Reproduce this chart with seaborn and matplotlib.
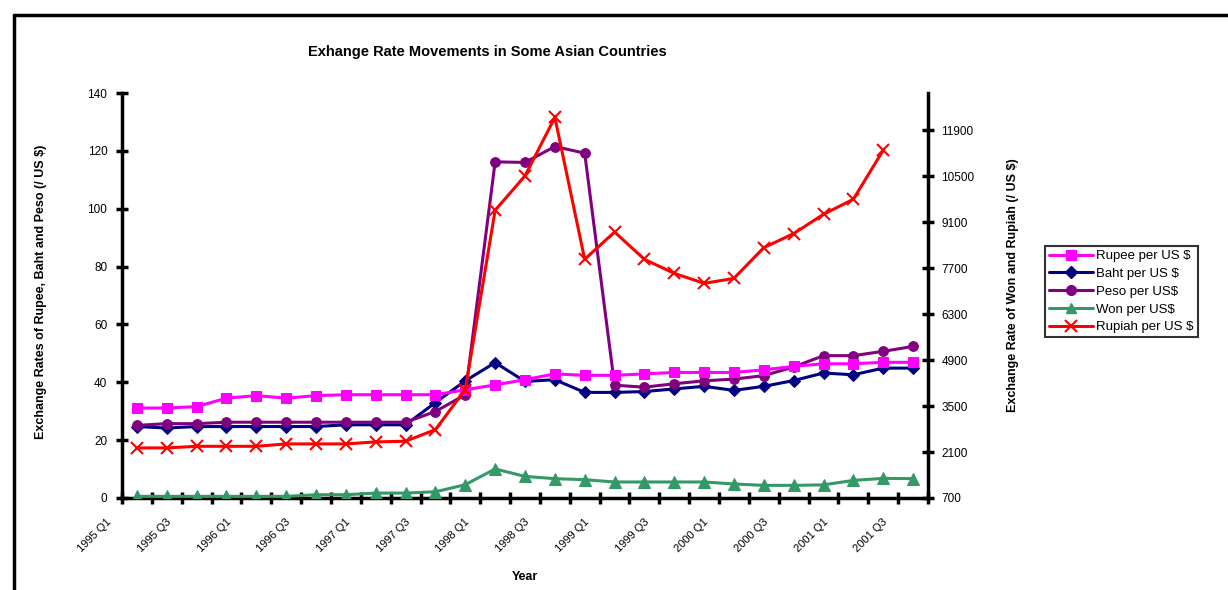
import numpy as np
import pandas as pd
import matplotlib
matplotlib.use("Agg")
import matplotlib.pyplot as plt
from matplotlib.lines import Line2D
from matplotlib.transforms import ScaledTranslation
import seaborn as sns

quarters = [f"{y} Q{q}" for y in range(1995, 2002) for q in range(1, 5)][:27]
tick_labels = quarters[::2]

rupee = [31.1, 31.1, 31.6, 34.5, 35.4, 34.5, 35.4, 35.7, 35.7, 35.7, 35.7, 37.4, 39.1,
         40.9, 42.9, 42.4, 42.4, 42.9, 43.4, 43.4, 43.4, 44.3, 45.5, 46.4, 46.4, 46.9, 46.9]
baht = [24.7, 24.2, 24.7, 24.7, 24.7, 24.7, 24.7, 25.3, 25.3, 25.3, 33.0, 40.5, 46.8,
        40.3, 40.9, 36.5, 36.5, 36.8, 37.7, 38.6, 37.2, 38.6, 40.6, 43.2, 42.6, 44.9, 44.9]
peso = [25.1, 25.7, 25.7, 26.2, 26.2, 26.2, 26.2, 26.2, 26.2, 26.2, 29.9, 35.7, 116.2,
        116.0, 121.5, 119.2, 39.0, 38.3, 39.5, 40.5, 41.1, 42.3, 45.3, 49.2, 49.2, 50.7, 52.4]
won = [750, 750, 750, 750, 750, 750, 800, 800, 850, 850, 890, 1106, 1585,
       1359, 1289, 1258, 1188, 1188, 1188, 1188, 1127, 1085, 1085, 1100, 1237, 1298, 1290]
rupiah = [2226, 2226, 2275, 2275, 2275, 2348, 2348, 2348, 2409, 2430, 2784, 4005, 9467,
          10514, 12296, 7972, 8805, 7972, 7545, 7240, 7392, 8329, 8756, 9345, 9803, 11298, np.nan]

left_ticks = [0, 20, 40, 60, 80, 100, 120, 140]
right_ticks = [700, 2100, 3500, 4900, 6300, 7700, 9100, 10500, 11900]

sns.set_style("white")
plt.rcParams['font.family'] = ['Liberation Sans', 'DejaVu Sans']
plt.rcParams['text.color'] = 'black'
plt.rcParams['axes.labelcolor'] = 'black'
plt.rcParams['xtick.color'] = 'black'
plt.rcParams['ytick.color'] = 'black'

W, H = 1228, 590
fig = plt.figure(figsize=(W / 100, H / 100), dpi=100)
ax = fig.add_axes([122 / W, 92 / H, 806 / W, 405 / H])
ax2 = ax.twinx()

xpos = np.arange(len(quarters))
lw = 2.2

sns.lineplot(x=xpos, y=baht, ax=ax, color='#000080', marker='D', markersize=6.5,
             markeredgecolor='#000080', linewidth=lw, legend=False)
sns.lineplot(x=xpos, y=peso, ax=ax, color='#800080', marker='o', markersize=7,
             markeredgecolor='#800080', linewidth=lw, legend=False)
sns.lineplot(x=xpos, y=rupee, ax=ax, color='#FF00FF', marker='s', markersize=7.5,
             markeredgecolor='#FF00FF', linewidth=lw, legend=False)
sns.lineplot(x=xpos, y=won, ax=ax2, color='#339966', marker='^', markersize=8,
             markeredgecolor='#339966', linewidth=lw, legend=False)
sns.lineplot(x=xpos, y=rupiah, ax=ax2, color='#FF0000', marker='x', markersize=9,
             markeredgecolor='#FF0000', markeredgewidth=1.5, linewidth=lw, legend=False)

for a in (ax, ax2):
    for s in a.spines.values():
        s.set_visible(False)
    a.grid(False)
    a.patch.set_visible(False)
ax.spines['left'].set_visible(True)
ax.spines['bottom'].set_visible(True)
ax2.spines['right'].set_visible(True)
for s in (ax.spines['left'], ax.spines['bottom'], ax2.spines['right']):
    s.set_linewidth(2.5)
    s.set_color('black')

ax.set_yticks(left_ticks)
ax.set_yticklabels([str(v) for v in left_ticks])
ax.tick_params(axis='y', direction='inout', length=9, width=2.5, labelsize=8.5, pad=6, left=True,
               colors='black')
ax2.set_yticks(right_ticks)
ax2.set_yticklabels([str(v) for v in right_ticks])
ax2.tick_params(axis='y', direction='inout', length=9, width=2.5, labelsize=8.5, pad=5, right=True,
                colors='black')

ax.set_xticks(xpos[::2])
ax.set_xticklabels(tick_labels)
ax.set_xticks(np.arange(-0.5, len(quarters), 1.0), minor=True)
ax.tick_params(axis='x', which='major', length=0, labelsize=8, pad=16, colors='black')
ax.tick_params(axis='x', which='minor', direction='inout', length=9, width=2.5, bottom=True,
               colors='black')
shift = ScaledTranslation(-27 / 100, 0, fig.dpi_scale_trans)
for t in ax.get_xticklabels():
    t.set_rotation(45)
    t.set_ha('right')
    t.set_va('center')
    t.set_rotation_mode('anchor')
    t.set_transform(t.get_transform() + shift)

ax.set_xlim(-0.5, len(quarters) - 0.5)
ax.set_ylim(0, 140)
ax2.set_ylim(700, 13040)

ax.set_xlabel('Year', fontsize=9, fontweight='bold', color='black')
ax.xaxis.set_label_coords(0.5, -0.18)
ax.set_ylabel('Exchange Rates of Rupee, Baht and Peso (/ US $)', fontsize=9, fontweight='bold',
              color='black')
ax.yaxis.set_label_coords(-0.093, 0.509)
ax2.set_ylabel('Exchange Rate of Won and Rupiah (/ US $)', fontsize=9, fontweight='bold',
               color='black')
ax2.yaxis.set_label_coords(1.098, 0.526)

fig.text(487 / W, 1 - 52 / H, 'Exhange Rate Movements in Some Asian Countries',
         ha='center', va='center', fontsize=10.5, fontweight='bold', color='black')

handles = [
    Line2D([], [], color='#FF00FF', marker='s', markersize=7.5, linewidth=lw),
    Line2D([], [], color='#000080', marker='D', markersize=6, linewidth=lw),
    Line2D([], [], color='#800080', marker='o', markersize=7, linewidth=lw),
    Line2D([], [], color='#339966', marker='^', markersize=7.5, linewidth=lw),
    Line2D([], [], color='#FF0000', marker='x', markersize=8, markeredgewidth=1.5, linewidth=lw),
]
labels = ['Rupee per US $', 'Baht per US $', 'Peso per US$', 'Won per US$', 'Rupiah per US $']
leg = fig.legend(handles, labels, loc='upper left', bbox_to_anchor=(1045 / W, 1 - 246 / H),
                 frameon=True, fancybox=False, edgecolor='black', fontsize=9.5,
                 handlelength=3.3, borderpad=0.3, labelspacing=0.42, handletextpad=0.3,
                 borderaxespad=0)
leg.get_frame().set_linewidth(1.5)
for txt in leg.get_texts():
    txt.set_color('black')

fig.add_artist(Line2D([14 / W, 14 / W], [0, 1 - 15 / H], transform=fig.transFigure,
                      color='black', linewidth=2.5))
fig.add_artist(Line2D([14 / W, 1], [1 - 15 / H, 1 - 15 / H], transform=fig.transFigure,
                      color='black', linewidth=2.5))

fig.savefig('out.png', dpi=100)
